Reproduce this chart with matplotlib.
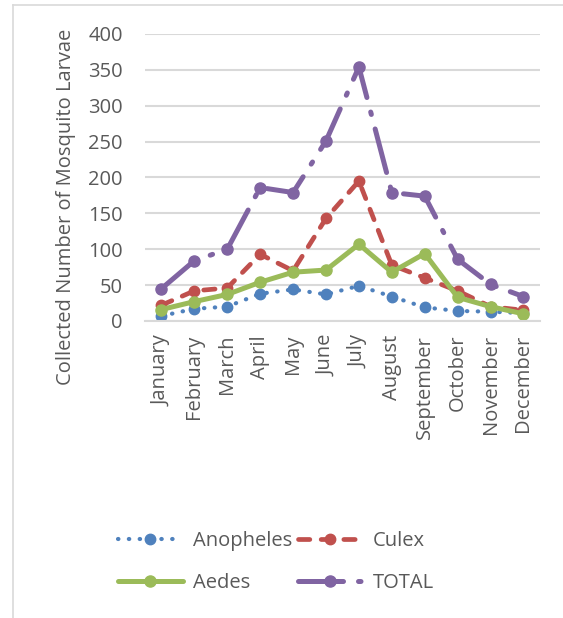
import matplotlib.pyplot as plt
from matplotlib.lines import Line2D

months = ['January', 'February', 'March', 'April', 'May', 'June', 'July',
          'August', 'September', 'October', 'November', 'December']
anopheles = [7, 17, 20, 38, 44, 37, 49, 34, 19, 14, 13, 11]
culex = [22, 42, 46, 93, 70, 143, 195, 78, 60, 42, 20, 15]
aedes = [16, 27, 37, 54, 68, 71, 107, 68, 94, 33, 20, 10]
total = [45, 84, 100, 186, 179, 251, 354, 179, 174, 86, 51, 34]
yticks = [0, 50, 100, 150, 200, 250, 300, 350, 400]

plt.rcParams['font.family'] = ['Open Sans', 'DejaVu Sans']
text_c = '#595959'
grid_c = '#D9D9D9'
fs = 14.5

fig = plt.figure(figsize=(5.63, 6.18), dpi=100)
ax = fig.add_axes([0.2575, 0.4806, 0.7015, 0.4644])

x = range(len(months))
l_an, = ax.plot(x, anopheles, color='#4F81BD', lw=3.0, ls=(0, (0.1, 2.5)),
                dash_capstyle='round', marker='o', ms=7.5, label='Anopheles')
l_cu, = ax.plot(x, culex, color='#C0504D', lw=3.4, ls=(0, (2.4, 2.4)),
                dash_capstyle='round', marker='o', ms=7.5, label='Culex')
l_ae, = ax.plot(x, aedes, color='#9BBB59', lw=3.6, solid_capstyle='round',
                marker='o', ms=8, label='Aedes')
l_to, = ax.plot(x, total, color='#8064A2', lw=3.6, ls=(0, (9, 3, 0.5, 3)),
                dash_capstyle='round', marker='o', ms=8, label='TOTAL')

ax.set_xlim(-0.5, len(months) - 0.5)
ax.set_ylim(0, 400)
ax.set_yticks(yticks)
ax.set_xticks(list(x))
ax.set_xticklabels(months, rotation=90)
ax.tick_params(axis='both', length=0, labelsize=fs, colors=text_c)
ax.tick_params(axis='y', pad=16)
ax.tick_params(axis='x', pad=10)
ax.grid(axis='y', color=grid_c, lw=1.5)
ax.set_axisbelow(True)
for s in ['top', 'right', 'left']:
    ax.spines[s].set_visible(False)
ax.spines['bottom'].set_color(grid_c)
ax.spines['bottom'].set_linewidth(1.5)

fig.text(66 / 563, 1 - 207 / 618, 'Collected Number of Mosquito Larvae',
         rotation=90, ha='center', va='center', fontsize=fs, color=text_c)

# legend filled row by row: Anopheles, Culex / Aedes, TOTAL
handles = [l_an, l_ae, l_cu, l_to]
fig.legend(handles, [h.get_label() for h in handles], loc='center',
           bbox_to_anchor=(0.49, 1 - 562 / 618), ncol=2, frameon=False,
           fontsize=fs, labelcolor=text_c, handlelength=3.2,
           handletextpad=0.5, columnspacing=0.3, labelspacing=1.1)

# thin frame around the chart area
fig.add_artist(Line2D([13 / 563, 13 / 563], [0, 1 - 5 / 618],
                      transform=fig.transFigure, color=grid_c, lw=1.2))
fig.add_artist(Line2D([13 / 563, 1], [1 - 5 / 618, 1 - 5 / 618],
                      transform=fig.transFigure, color=grid_c, lw=1.2))

fig.savefig('out.png', dpi=100)
